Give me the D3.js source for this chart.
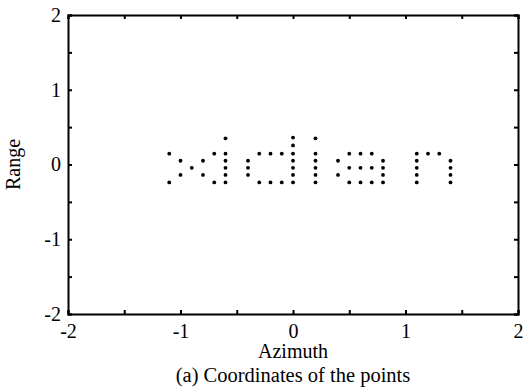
<!DOCTYPE html>
<html>
<head>
<meta charset="utf-8">
<script src="https://cdn.jsdelivr.net/npm/d3@7"></script>
<style>
  body { margin: 0; background: #fff; }
</style>
</head>
<body>
<div id="chart"></div>
<script>
// point coordinates, one letter at a time ("xidian")
const letters = ["x", "i", "d", "i", "a", "n"];
const azimuth = [
  -1.1, -0.7, -1.0, -0.8, -0.9, -1.0, -0.8, -1.1, -0.7,          // x
  -0.6, -0.6, -0.6, -0.6, -0.6, -0.6,                              // i
  -0.3, -0.2, -0.1, -0.4, -0.4, -0.4, -0.3, -0.2, -0.1,
  0, 0, 0, 0, 0, 0, 0,                                             // d
  0.2, 0.2, 0.2, 0.2, 0.2, 0.2,                                    // i
  0.5, 0.6, 0.7, 0.4, 0.8, 0.5, 0.6, 0.7, 0.8, 0.4, 0.8,
  0.5, 0.6, 0.7, 0.8,                                              // a
  1.1, 1.2, 1.3, 1.1, 1.1, 1.1, 1.1, 1.4, 1.4, 1.4, 1.4            // n
];
const range = [
  0.145, 0.145, 0.05, 0.05, -0.045, -0.14, -0.14, -0.24, -0.24,
  0.35, 0.145, 0.05, -0.045, -0.14, -0.24,
  0.145, 0.145, 0.145, 0.05, -0.045, -0.14, -0.24, -0.24, -0.24,
  0.36, 0.255, 0.145, 0.05, -0.045, -0.14, -0.24,
  0.35, 0.145, 0.05, -0.045, -0.14, -0.24,
  0.145, 0.145, 0.145, 0.05, 0.05, -0.045, -0.045, -0.045, -0.045, -0.14, -0.14,
  -0.24, -0.24, -0.24, -0.24,
  0.145, 0.145, 0.145, 0.05, -0.045, -0.14, -0.24, 0.05, -0.045, -0.14, -0.24
];
const xTicks = [-2, -1.5, -1, -0.5, 0, 0.5, 1, 1.5, 2];
const yTicks = [-2, -1.5, -1, -0.5, 0, 0.5, 1, 1.5, 2];

const FONT = '"Liberation Serif", "Times New Roman", serif';
const W = 526, H = 389;
const margin = { top: 15, right: 8, bottom: 75, left: 68 };
const width = W - margin.left - margin.right,
      height = H - margin.top - margin.bottom;

const svg = d3.select("#chart").append("svg")
  .attr("width", W)
  .attr("height", H);

const g = svg.append("g")
  .attr("transform", "translate(" + margin.left + "," + margin.top + ")");

const x = d3.scaleLinear().domain([-2, 2]).range([0, width]);
const y = d3.scaleLinear().domain([-2, 2]).range([height, 0]);

const fmt = d => Number.isInteger(d) ? String(d) : "";
const noLabel = () => "";

// bottom and left with labels, top and right mirrored ticks only
g.append("g")
  .attr("transform", "translate(0," + height + ")")
  .call(d3.axisBottom(x).tickValues(xTicks).tickFormat(fmt).tickSize(-4).tickPadding(10));
g.append("g")
  .call(d3.axisLeft(y).tickValues(yTicks).tickFormat(fmt).tickSize(-4).tickPadding(7));
g.append("g")
  .call(d3.axisTop(x).tickValues(xTicks).tickFormat(noLabel).tickSize(-4));
g.append("g")
  .attr("transform", "translate(" + width + ",0)")
  .call(d3.axisRight(y).tickValues(yTicks).tickFormat(noLabel).tickSize(-4));

g.selectAll(".domain").attr("stroke", "#000").attr("stroke-width", 2);
g.selectAll(".tick line").attr("stroke", "#000").attr("stroke-width", 2);
g.selectAll(".tick text")
  .style("font-family", FONT)
  .style("font-size", "20px")
  .attr("fill", "#000");

g.selectAll("circle.pt")
  .data(azimuth.map((a, i) => [a, range[i]]))
  .join("circle")
  .attr("class", "pt")
  .attr("cx", d => x(d[0]))
  .attr("cy", d => y(d[1]))
  .attr("r", 1.9)
  .attr("fill", "#000");

svg.append("text")
  .attr("x", margin.left + width / 2)
  .attr("y", 358)
  .attr("text-anchor", "middle")
  .style("font-family", FONT)
  .style("font-size", "20px")
  .text("Azimuth");

svg.append("text")
  .attr("x", margin.left + width / 2)
  .attr("y", 382)
  .attr("text-anchor", "middle")
  .style("font-family", FONT)
  .style("font-size", "20.5px")
  .text("(a) Coordinates of the points");

svg.append("text")
  .attr("transform", "translate(20," + (margin.top + height / 2) + ") rotate(-90)")
  .attr("text-anchor", "middle")
  .style("font-family", FONT)
  .style("font-size", "20px")
  .text("Range");
</script>
</body>
</html>
